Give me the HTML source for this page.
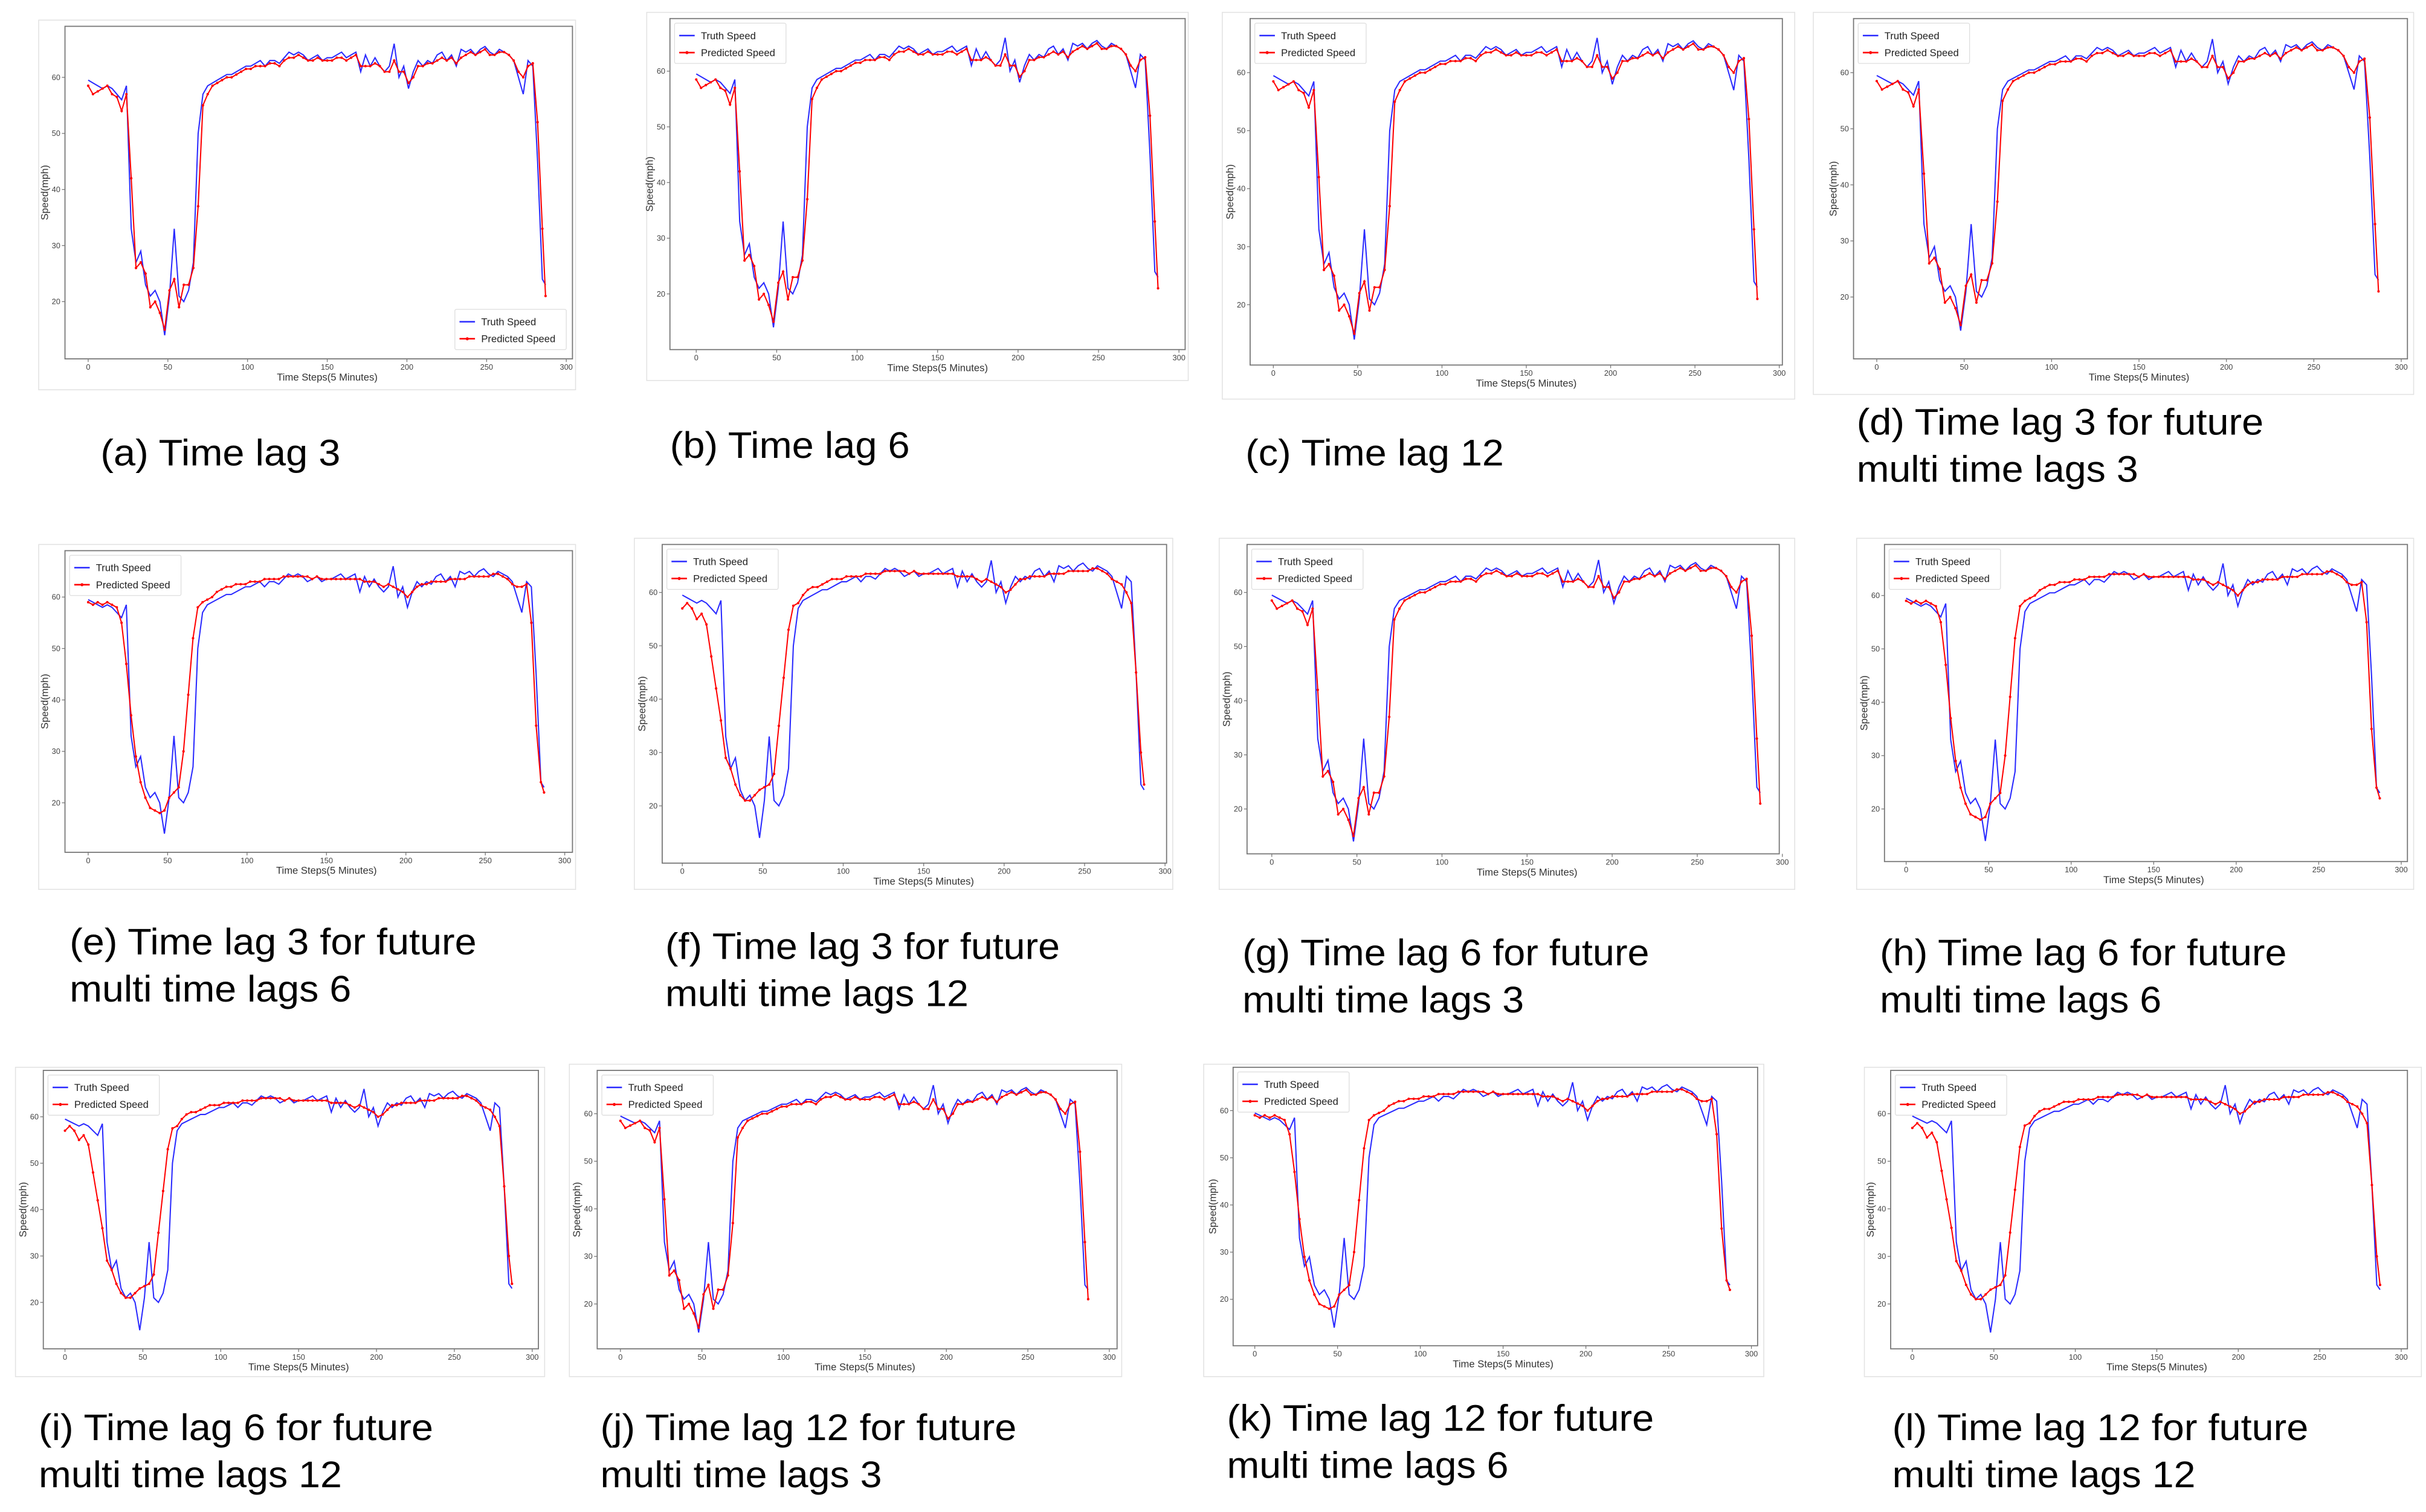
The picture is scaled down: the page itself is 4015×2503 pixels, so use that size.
<!DOCTYPE html>
<html><head><meta charset="utf-8"><style>
html,body{margin:0;padding:0;background:#fff;width:4015px;height:2503px;overflow:hidden}
svg{display:block}
.cap{font-family:"Liberation Sans",sans-serif;font-size:24px;fill:#000}
.tk{font-family:"Liberation Sans",sans-serif;font-size:5px;fill:#444}
.lab{font-family:"Liberation Sans",sans-serif;font-size:6.5px;fill:#333}
.lg{font-family:"Liberation Sans",sans-serif;font-size:6.5px;fill:#222}
</style></head><body>
<svg id="fig" width="4015" height="2503" viewBox="0 0 1568 977.5" xmlns="http://www.w3.org/2000/svg"></svg>
<script>
const steps = [0,3,6,9,12,15,18,21,24,27,30,33,36,39,42,45,48,51,54,57,60,63,66,69,72,75,78,81,84,87,90,93,96,99,102,105,108,111,114,117,120,123,126,129,132,135,138,141,144,147,150,153,156,159,162,165,168,171,174,177,180,183,186,189,192,195,198,201,204,207,210,213,216,219,222,225,228,231,234,237,240,243,246,249,252,255,258,261,264,267,270,273,276,279,282,285,287];
const truth = [59.5,59,58.5,58,58.5,58,57,56,58.5,33,27,29,23,21,22,20,14,21,33,21,20,22,27,50,57,58.5,59,59.5,60,60.5,60.5,61,61.5,62,62,62.5,63,62,63,63,62.5,63.5,64.5,64,64.5,64,63,63.5,64,63,63.5,63.5,64,64.5,63.5,64,64.5,61,64,62,63.5,62,61,62,66,60,62,58,61,63,62,63,62.5,64,64.5,63,64,62,65,64.5,65,64,65,65.5,64.5,64,65,64.5,64,63,60,57,63,62,45,24,23];
const predClose = [58.5,57,57.5,58,58.5,57,56.5,54,57,42,26,27,25,19,20,18,15,22,24,19,23,23,26,37,55,57,58.5,59,59.5,60,60,60.5,61,61.5,61.5,62,62,62,62.5,62.5,62,63,63.5,63.5,64,63.5,63,63,63.5,63,63,63,63.5,63.5,63,63.5,64,62,62,62,62.5,62,61,61,63,61,61,59,60,62,62,62.5,62.5,63,63.5,63,63.5,62.5,63.5,64,64.5,64,64.5,65,64,64,64.5,64.5,64,63,61,60,62,62.5,52,33,21];
const predSmooth = [59,58.5,59,58.5,59,58.5,58,55,47,37,29,24,21,19,18.5,18,18.5,21,22,23,30,41,52,58,59,59.5,60,61,61.5,62,62,62.5,62.5,62.5,63,63,63,63.5,63.5,63.5,63.5,64,64,64,64,64,64,63.5,64,63.5,63.5,63.5,63.5,63.5,63.5,63.5,63.5,63.5,63,63,63,62.5,62,62.5,62,61.5,61,60,61,62,62.5,62.5,63,63,63,63,63.5,63.5,63.5,63.5,64,64,64,64,64,64.5,64.5,64,63.5,62.5,62,62,62.5,55,35,24,22];
const predLagged = [57,58,57,55,56,54,48,42,36,29,27,24,22,21,21,22,23,23.5,24,26,35,44,53,57.5,58,59.5,60.5,61,61,61.5,62,62.5,62.5,62.5,63,63,63,63,63.5,63.5,63.5,63.5,64,64,64,64,64,63.5,64,63.5,63.5,63.5,63.5,63.5,63.5,63.5,63.5,63,63,63,63,62.5,62,62.5,62,61.5,61,60,60.5,61.5,62.5,62.5,63,63,63,63,63.5,63.5,63.5,63.5,64,64,64,64,64,64.5,64.5,64,63.5,62.5,62,61.5,60,58,45,30,24];
const yTicks = [20,30,40,50,60];
const xTicks = [0,50,100,150,200,250,300];

const NS = "http://www.w3.org/2000/svg";
const fig = document.getElementById('fig');
function mk(tag, attrs, parent){const e=document.createElementNS(NS,tag);for(const k in attrs)e.setAttribute(k,attrs[k]);(parent||fig).appendChild(e);return e;}

const panels = [
 {id:'a',o:[25,13,372,252],f:[42,17,370,232],x0:57,x3:366,y60:50,y20:195,p:predClose,lg:'br',cap:['(a) Time lag 3'],cw:[155],cx:65,cy:301},
 {id:'b',o:[418,8,768,246],f:[433,12,766,226],x0:450,x3:762,y60:46,y20:190,p:predClose,lg:'tl',cap:['(b) Time lag 6'],cw:[155],cx:433,cy:296},
 {id:'c',o:[790,8,1160,258],f:[808,12,1152,236],x0:823,x3:1150,y60:47,y20:197,p:predClose,lg:'tl',cap:['(c) Time lag 12'],cw:[167],cx:805,cy:301},
 {id:'d',o:[1172,8,1560,255],f:[1198,12,1556,232],x0:1213,x3:1552,y60:47,y20:192,p:predClose,lg:'tl',cap:['(d) Time lag 3 for future','multi time lags 3'],cw:[263,182],cx:1200,cy:281},
 {id:'e',o:[25,352,372,575],f:[42,356,370,551],x0:57,x3:365,y60:386,y20:519,p:predSmooth,lg:'tl',cap:['(e) Time lag 3 for future','multi time lags 6'],cw:[263,182],cx:45,cy:617},
 {id:'f',o:[410,348,758,575],f:[428,352,754,558],x0:441,x3:753,y60:383,y20:521,p:predLagged,lg:'tl',cap:['(f) Time lag 3 for future','multi time lags 12'],cw:[255,196],cx:430,cy:620},
 {id:'g',o:[788,348,1160,575],f:[806,352,1150,552],x0:822,x3:1152,y60:383,y20:523,p:predClose,lg:'tl',cap:['(g) Time lag 6 for future','multi time lags 3'],cw:[263,182],cx:803,cy:624},
 {id:'h',o:[1200,348,1560,575],f:[1218,352,1556,557],x0:1232,x3:1552,y60:385,y20:523,p:predSmooth,lg:'tl',cap:['(h) Time lag 6 for future','multi time lags 6'],cw:[263,182],cx:1215,cy:624},
 {id:'i',o:[10,690,352,890],f:[28,692,348,872],x0:42,x3:344,y60:722,y20:842,p:predLagged,lg:'tl',cap:['(i) Time lag 6 for future','multi time lags 12'],cw:[255,196],cx:25,cy:931},
 {id:'j',o:[368,688,725,890],f:[386,692,722,872],x0:401,x3:717,y60:720,y20:843,p:predClose,lg:'tl',cap:['(j) Time lag 12 for future','multi time lags 3'],cw:[269,182],cx:388,cy:931},
 {id:'k',o:[778,688,1140,890],f:[797,690,1136,870],x0:811,x3:1132,y60:718,y20:840,p:predSmooth,lg:'tl',cap:['(k) Time lag 12 for future','multi time lags 6'],cw:[276,182],cx:793,cy:925},
 {id:'l',o:[1205,690,1565,890],f:[1222,692,1556,872],x0:1236,x3:1552,y60:720,y20:843,p:predLagged,lg:'tl',cap:['(l) Time lag 12 for future','multi time lags 12'],cw:[269,196],cx:1223,cy:931}
];

panels.forEach(P=>{
  const g = mk('g',{});
  
  
  const xs = t => P.x0 + (P.x3-P.x0)*t/300;
  const ys = v => P.y20 + (P.y60-P.y20)*(v-20)/40;
  const ob = mk('rect',{x:P.o[0],y:P.o[1],width:P.o[2]-P.o[0],height:P.o[3]-P.o[1],fill:'#fff',stroke:'#e2e2e2','stroke-width':0.6},g);
  
  
  const fr = mk('rect',{x:P.f[0],y:P.f[1],width:P.f[2]-P.f[0],height:P.f[3]-P.f[1],fill:'none',stroke:'#777','stroke-width':0.7},g);
  
  
  yTicks.forEach(v=>{
    const y=ys(v);
    mk('line',{x1:P.f[0]-2,x2:P.f[0],y1:y,y2:y,stroke:'#777','stroke-width':0.5},g);
    const t=mk('text',{x:P.f[0]-3,y:y+1.7,'text-anchor':'end',class:'tk'},g);
    t.textContent=v;
    
    
  });
  xTicks.forEach(v=>{
    const x=xs(v);
    mk('line',{x1:x,x2:x,y1:P.f[3],y2:P.f[3]+2,stroke:'#777','stroke-width':0.5},g);
    const t=mk('text',{x:x,y:P.f[3]+7,'text-anchor':'middle',class:'tk'},g);
    t.textContent=v;
    
    
  });
  const xl=mk('text',{x:(P.x0+P.x3)/2,y:P.f[3]+14,'text-anchor':'middle',class:'lab'},g);
  xl.textContent='Time Steps(5 Minutes)';
  
  
  const yc=(P.f[1]+P.f[3])/2, yx=P.f[0]-11;
  const yl=mk('text',{x:yx,y:yc,'text-anchor':'middle',class:'lab',transform:`rotate(-90 ${yx} ${yc})`},g);
  yl.textContent='Speed(mph)';
  
  
  const tp=steps.map((t,i)=>xs(t).toFixed(2)+','+ys(truth[i]).toFixed(2)).join(' ');
  const tl=mk('polyline',{points:tp,fill:'none',stroke:'#2a2aff','stroke-width':0.8},g);
  
  
  const pp=steps.map((t,i)=>xs(t).toFixed(2)+','+ys(P.p[i]).toFixed(2)).join(' ');
  const pl=mk('polyline',{points:pp,fill:'none',stroke:'#f00','stroke-width':0.8},g);
  
  
  steps.forEach((t,i)=>{
    const c=mk('circle',{cx:xs(t),cy:ys(P.p[i]),r:0.8,fill:'#f00'},g);
    
    
  });
  let lx,ly; const lw=72,lh=26;
  if(P.lg==='br'){lx=P.f[2]-lw-4;ly=P.f[3]-lh-6;} else {lx=P.f[0]+3;ly=P.f[1]+3;}
  const lgG=mk('g',{},g);
  
  
  mk('rect',{x:lx,y:ly,width:lw,height:lh,fill:'#fff',stroke:'#ddd','stroke-width':0.5,rx:1},lgG);
  mk('line',{x1:lx+3,x2:lx+13,y1:ly+8,y2:ly+8,stroke:'#2a2aff','stroke-width':1},lgG);
  const l1=mk('text',{x:lx+17,y:ly+10.3,class:'lg'},lgG);
  l1.textContent='Truth Speed';
  
  
  mk('line',{x1:lx+3,x2:lx+13,y1:ly+19,y2:ly+19,stroke:'#f00','stroke-width':1},lgG);
  mk('circle',{cx:lx+8,cy:ly+19,r:1,fill:'#f00'},lgG);
  const l2=mk('text',{x:lx+17,y:ly+21.3,class:'lg'},lgG);
  l2.textContent='Predicted Speed';
  
  
  P.cap.forEach((s,i)=>{
    const c=mk('text',{x:P.cx,y:P.cy+i*30.5,class:'cap',textLength:P.cw[i],lengthAdjust:'spacingAndGlyphs'});
    c.textContent=s;
    
    
  });
});
</script>
</body></html>
